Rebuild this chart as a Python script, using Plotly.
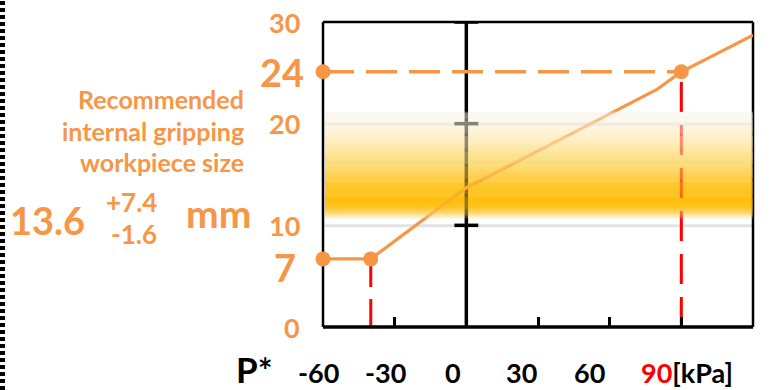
import numpy as np
import plotly.graph_objects as go

# ---------------- data ----------------
pressure_kpa = [-60, -40, 0, 20, 80, 90, 120]
size_mm = [6.7, 6.7, 13.7, 16.1, 23.4, 25.1, 28.7]
marker_x = [-60, -40, -60, 90]
marker_y = [6.7, 6.7, 25.1, 25.1]
p_min, size_min = -40, 6.7
p_max, size_max = 90, 25.1
y_tick_vals = [0, 10, 20, 30]
y_tick_text = ["0", "10", "20", "30"]
x_tick_vals = [-60, -30, 0, 30, 60]
x_tick_text = ["-60", "-30", "0", "30", "60"]
recommended = 13.6
rec_plus = 7.4
rec_minus = 1.6

# ---------------- style ----------------
ORANGE = "#F79646"
RED = "#FF0000"
FONT = "Lato"
W, H = 783, 390
L, R, T, B = 323, 30, 22, 63
PW, PH = W - L - R, H - T - B


def px(x):
    return (x - L) / PW


def py(y):
    return (H - B - y) / PH


fig = go.Figure()

# red dashed drops
fig.add_trace(go.Scatter(x=[p_min, p_min], y=[0, size_min], mode="lines",
                         line=dict(color=RED, width=3, dash="28px,12px"),
                         cliponaxis=False, showlegend=False, hoverinfo="skip"))
fig.add_trace(go.Scatter(x=[p_max, p_max], y=[0, size_max], mode="lines",
                         line=dict(color=RED, width=3, dash="30px,13px"),
                         cliponaxis=False, showlegend=False, hoverinfo="skip"))
# orange dashed horizontal
fig.add_trace(go.Scatter(x=[pressure_kpa[0], p_max], y=[size_max, size_max], mode="lines",
                         line=dict(color=ORANGE, width=3.5, dash="31px,12px"),
                         cliponaxis=False, showlegend=False, hoverinfo="skip"))
# main curve
fig.add_trace(go.Scatter(x=pressure_kpa, y=size_mm, mode="lines",
                         line=dict(color=ORANGE, width=3.2),
                         cliponaxis=False, showlegend=False, hoverinfo="skip"))
# markers
fig.add_trace(go.Scatter(x=marker_x, y=marker_y, mode="markers",
                         marker=dict(color=ORANGE, size=15),
                         cliponaxis=False, showlegend=False, hoverinfo="skip"))

shapes = []

# ---- band (gradient) ----
stops_y = [10.55, 10.9, 11.3, 11.8, 12.3, 13.0, 14.0, 15.0, 16.5, 18.0, 19.5, 20.6, 21.0, 21.25]
stops_r = [255, 254, 254, 254, 255, 255, 254, 253, 253, 254, 254, 252, 250, 255]
stops_g = [255, 238, 212, 196, 192, 193, 198, 210, 224, 237, 245, 248, 248, 255]
stops_b = [255, 185, 100, 35, 15, 18, 35, 80, 135, 185, 220, 238, 242, 255]
stops_a = [0.0, 0.25, 0.5, 0.55, 0.55, 0.55, 0.55, 0.55, 0.55, 0.52, 0.5, 0.5, 0.45, 0.0]
edges = np.arange(10.5, 21.3, 0.1)
base_shapes, over_shapes = [], []
for y0, y1 in zip(edges[:-1], edges[1:]):
    ym = (y0 + y1) / 2
    r = int(np.interp(ym, stops_y, stops_r))
    g = int(np.interp(ym, stops_y, stops_g))
    b = int(np.interp(ym, stops_y, stops_b))
    a = float(np.interp(ym, stops_y, stops_a))
    col = f"rgb({r},{g},{b})"
    base_shapes.append(dict(type="rect", xref="paper", yref="y", x0=px(325), x1=1.0,
                            y0=y0, y1=y1 + 0.02, fillcolor=col, line=dict(width=0),
                            layer="below"))
    over_shapes.append(dict(type="rect", xref="paper", yref="y", x0=px(325), x1=1.0,
                            y0=y0, y1=y1 + 0.02, fillcolor=f"rgba({r},{g},{b},{a:.3f})",
                            line=dict(width=0), layer="above"))
shapes += base_shapes

# light gray band edge lines
for yv in [10, 20]:
    shapes.append(dict(type="line", xref="paper", yref="y", x0=px(325), x1=1.0,
                       y0=yv - 0.05, y1=yv - 0.05, line=dict(color="#E2E2E2", width=3),
                       layer="below"))

# vertical axis at P*=0 with caps
shapes.append(dict(type="line", xref="x", yref="y", x0=0, x1=0, y0=0, y1=30,
                   line=dict(color="black", width=3.5), layer="below"))
for yv in [10, 20, 30]:
    shapes.append(dict(type="line", xref="x", yref="y", x0=-5, x1=5, y0=yv, y1=yv,
                       line=dict(color="black", width=3.5), layer="below"))

# frame
shapes.append(dict(type="line", xref="paper", yref="paper", x0=0, x1=0, y0=0, y1=1,
                   line=dict(color="black", width=2.5), layer="below"))
shapes.append(dict(type="line", xref="paper", yref="paper", x0=0, x1=1, y0=1, y1=1,
                   line=dict(color="black", width=2.5), layer="below"))
shapes.append(dict(type="line", xref="paper", yref="paper", x0=1, x1=1, y0=0, y1=1,
                   line=dict(color="black", width=2.5), layer="below"))

shapes += over_shapes

shapes.append(dict(type="line", xref="paper", yref="paper", x0=0, x1=1, y0=0, y1=0,
                   line=dict(color="black", width=3.5), layer="above"))

# dotted border at far left
shapes.append(dict(type="line", xref="paper", yref="paper", x0=px(2.5), x1=px(2.5),
                   y0=py(390), y1=py(0), line=dict(color="black", width=5, dash="4px,3px"),
                   layer="above"))

annotations = []


def txt(text, x, y, size, color, xanchor="center", yanchor="middle", xref="paper", yref="paper"):
    annotations.append(dict(text=text, x=x, y=y, xref=xref, yref=yref, xanchor=xanchor,
                            yanchor=yanchor, showarrow=False,
                            font=dict(family=FONT, size=size, color=color, weight="bold")))


# y labels
for v, t in zip(y_tick_vals, y_tick_text):
    txt(t, px(302), v, 27, ORANGE, xanchor="right", yref="y")
txt("24", px(306), size_max, 38, ORANGE, xanchor="right", yref="y")
annotations.append(dict(text="7", x=px(298), y=size_min, xref="paper", yref="y",
                        xanchor="right", yanchor="middle", yshift=-8, showarrow=False,
                        font=dict(family=FONT, size=38, color=ORANGE, weight="bold")))

# x labels
x_shifts = [-5, -9, -13, -17, -20]
for v, t, s in zip(x_tick_vals, x_tick_text, x_shifts):
    annotations.append(dict(text=t, x=v, y=py(372), xref="x", yref="paper", xanchor="center",
                            yanchor="middle", xshift=s, showarrow=False,
                            font=dict(family=FONT, size=27, color="black", weight="bold")))
txt(f"<span style='color:{RED}'>90</span>[kPa]", px(639), py(372), 27, "black", xanchor="left")
txt("P*", px(254), py(369), 35, "black")

# left description
txt("Recommended", px(246), py(99), 25, ORANGE, xanchor="right")
txt("internal gripping", px(246), py(131), 25, ORANGE, xanchor="right")
txt("workpiece size", px(246), py(162), 25, ORANGE, xanchor="right")
txt(f"{recommended}", px(47), py(220), 38, ORANGE)
txt(f"+{rec_plus}", px(131), py(202), 26, ORANGE)
txt(f"-{rec_minus}", px(134), py(234), 26, ORANGE)
txt("mm", px(218), py(213), 39, ORANGE)

fig.update_layout(
    width=W, height=H, autosize=False,
    margin=dict(l=L, r=R, t=T, b=B, pad=0),
    plot_bgcolor="white", paper_bgcolor="white",
    xaxis=dict(range=[-60, 120], showgrid=False, zeroline=False, showline=False,
               ticks="inside", ticklen=10, tickwidth=3, tickcolor="black",
               tickvals=[-60, -30, 30, 60, 90, 120], showticklabels=False, fixedrange=True),
    yaxis=dict(range=[0, 30], showgrid=False, zeroline=False, showline=False,
               showticklabels=False, ticks="", fixedrange=True),
    shapes=shapes, annotations=annotations, showlegend=False,
)

fig.write_html("out.html", config={"displayModeBar": False},
               post_script="document.body.style.margin='0';document.body.style.overflow='hidden';")
